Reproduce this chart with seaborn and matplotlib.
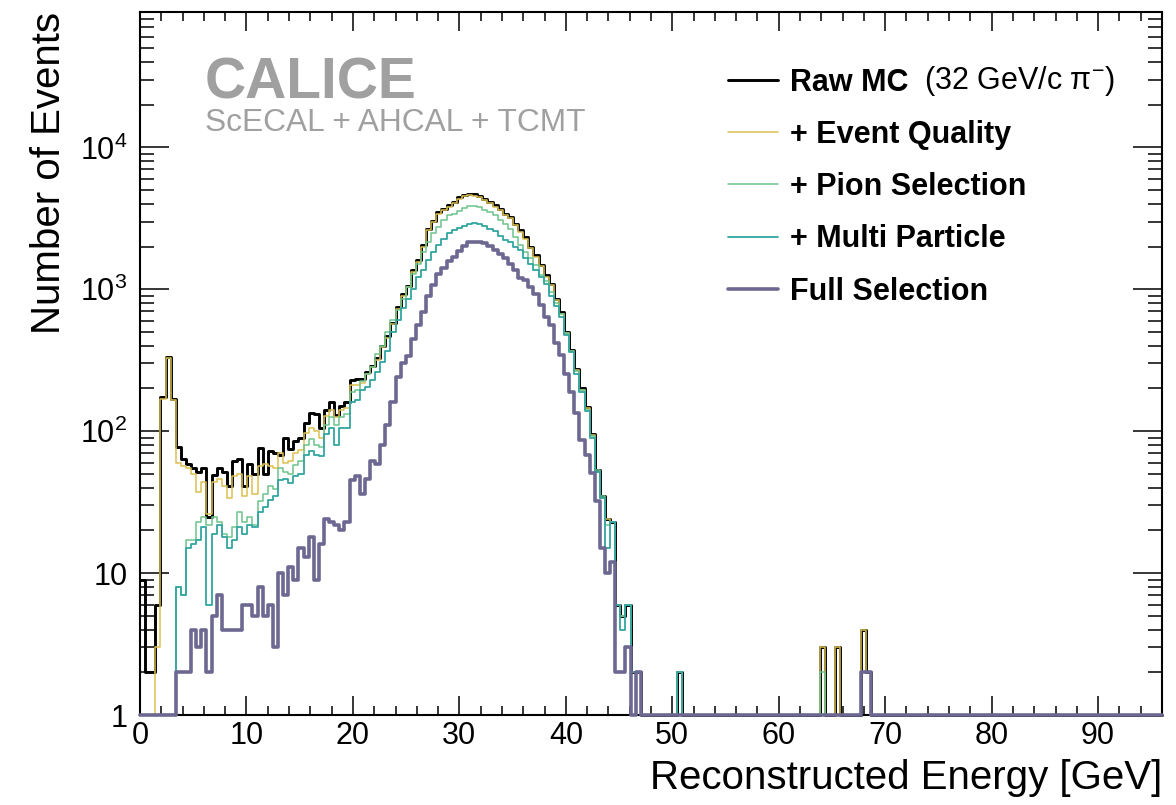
import numpy as np
import pandas as pd
import matplotlib
matplotlib.use("Agg")
import matplotlib.pyplot as plt
import seaborn as sns
from matplotlib.lines import Line2D
from matplotlib.ticker import FixedLocator, FixedFormatter, MultipleLocator, LogLocator, NullFormatter

# ---------------- data (0.48 GeV bins from 0 to 96 GeV) ----------------
n_bins = 200
e_min, e_max = 0.0, 96.0

# bins 0..97
raw_core = [9, 2, 2, 6, 175, 334, 170, 77, 64, 59, 55, 52, 55, 25, 49, 55, 52, 41, 62, 64,
            41, 59, 50, 76, 50, 73, 70, 68, 90, 75, 85, 90, 115, 135, 132, 105, 140, 160, 130, 150,
            160, 229, 232, 232, 260, 290, 330, 400, 470, 580, 750, 925, 1060, 1360, 1600, 2040, 2670, 3050, 3500, 3700,
            3900, 4150, 4450, 4650, 4700, 4680, 4550, 4350, 4120, 3900, 3700, 3410, 3230, 2900, 2600, 2330, 1990, 1740, 1480, 1260,
            1095, 860, 690, 500, 372, 276, 200, 148, 96, 53, 35, 24, 23, 6, 5, 6, 2, 2]
quality_core = [0, 0, 0, 3, 170, 330, 165, 60, 57, 55, 50, 37, 44, 26, 44, 46, 41, 34, 48, 50,
                35, 48, 36, 57, 59, 57, 55, 70, 60, 62, 70, 74, 97, 105, 100, 90, 127, 140, 125, 140,
                145, 210, 210, 220, 255, 285, 320, 390, 455, 565, 730, 900, 1030, 1320, 1560, 1990, 2600, 2980, 3420, 3620,
                3820, 4060, 4350, 4550, 4600, 4580, 4450, 4260, 4030, 3820, 3620, 3340, 3160, 2840, 2550, 2280, 1950, 1700, 1450, 1230,
                1070, 840, 675, 490, 365, 270, 196, 145, 94, 52, 34, 24, 23, 6, 5, 6, 2, 2]
pion_core = [0, 0, 0, 0, 0, 0, 0, 8, 7, 17, 17, 23, 25, 22, 25, 23, 19, 18, 21, 27,
             23, 25, 22, 32, 36, 41, 39, 55, 52, 50, 58, 62, 80, 88, 80, 78, 110, 125, 110, 125,
             133, 190, 195, 225, 255, 285, 350, 400, 500, 605, 720, 860, 1040, 1280, 1517, 1830, 2160, 2480, 2760, 3080,
             3330, 3410, 3550, 3760, 3845, 3845, 3800, 3640, 3500, 3330, 3100, 2880, 2660, 2330, 2040, 1830, 1660, 1480, 1260, 1140,
             960, 800, 665, 490, 370, 265, 195, 142, 92, 53, 35, 22, 23, 6, 5, 6, 2, 2]
multi_core = [0, 0, 0, 0, 0, 0, 0, 8, 7, 15, 16, 17, 21, 6, 19, 22, 18, 15, 17, 21,
              19, 22, 21, 27, 29, 33, 35, 45, 46, 43, 48, 50, 68, 73, 68, 67, 95, 105, 80, 105,
              105, 160, 165, 195, 205, 229, 260, 305, 370, 500, 605, 740, 860, 1010, 1220, 1370, 1600, 1830, 2040, 2270,
              2480, 2600, 2700, 2790, 2900, 2930, 2900, 2790, 2680, 2580, 2390, 2240, 2150, 1990, 1900, 1660, 1520, 1370, 1230, 1095,
              900, 760, 640, 475, 360, 255, 190, 138, 90, 52, 34, 15, 23, 6, 4, 6, 2, 2]
full_core = [0, 0, 0, 0, 0, 0, 0, 2, 2, 2, 4, 3, 4, 2, 5, 7, 4, 4, 4, 4,
             6, 6, 5, 8, 5, 6, 3, 10, 7, 11, 9, 15, 13, 18, 9, 16, 24, 23, 22, 20,
             23, 45, 48, 36, 46, 62, 59, 80, 110, 160, 240, 300, 340, 445, 560, 690, 900, 1080, 1280, 1410,
             1580, 1700, 1870, 2030, 2155, 2155, 2155, 2120, 2010, 1900, 1770, 1670, 1500, 1360, 1200, 1160, 1030, 920, 780, 640,
             560, 420, 345, 255, 190, 134, 87, 68, 51, 32, 15, 10, 12, 2, 2, 3, 0, 2]

# isolated high-energy entries: bin index -> counts
tail_bins = [105, 133, 136, 141, 142]
raw_tail = [2, 3, 3, 4, 2]
quality_tail = [2, 3, 3, 4, 2]
pion_tail = [2, 2, 0, 2, 2]
multi_tail = [2, 0, 0, 2, 2]
full_tail = [0, 0, 0, 2, 2]

labels = ["Raw MC", "+ Event Quality", "+ Pion Selection", "+ Multi Particle", "Full Selection"]
colors = ["#000000", "#dcc050", "#6cc48c", "#33a6a0", "#6c6891"]
widths = [2.1, 1.1, 1.1, 1.3, 2.6]

# ---------------- build full histograms ----------------
edges = np.linspace(e_min, e_max, n_bins + 1)
centers = 0.5 * (edges[:-1] + edges[1:])


def full_hist(core, tail):
    h = np.zeros(n_bins)
    h[:len(core)] = core
    for b, v in zip(tail_bins, tail):
        h[b] = v
    return h


series = [full_hist(raw_core, raw_tail), full_hist(quality_core, quality_tail),
          full_hist(pion_core, pion_tail), full_hist(multi_core, multi_tail),
          full_hist(full_core, full_tail)]

# ---------------- style ----------------
sns.set_style("white")
plt.rcParams["font.family"] = ["Liberation Sans", "DejaVu Sans"]
plt.rcParams["mathtext.fontset"] = "custom"
plt.rcParams["mathtext.rm"] = "Liberation Sans"
plt.rcParams["mathtext.it"] = "Liberation Sans:italic"
plt.rcParams["mathtext.bf"] = "Liberation Sans:bold"
plt.rcParams["text.color"] = "black"
plt.rcParams["axes.labelcolor"] = "black"
plt.rcParams["xtick.color"] = "black"
plt.rcParams["ytick.color"] = "black"

fig = plt.figure(figsize=(11.76, 8.05), dpi=100)
ax = fig.add_axes([140 / 1176, 1 - 715 / 805, 1022 / 1176, 703 / 805])

y_floor = 1.0  # ROOT draws empty bins at the axis minimum
for h, c, lw in zip(series, colors, widths):
    df = pd.DataFrame({"energy": centers, "count": np.clip(h, y_floor, None)})
    sns.histplot(data=df, x="energy", weights="count", bins=edges.tolist(), element="step",
                 fill=False, color=c, linewidth=lw, ax=ax, clip_on=False, zorder=3)

ax.set_yscale("log")
ax.set_xlim(e_min, e_max)
ax.set_ylim(1, 9e4)

for s in ax.spines.values():
    s.set_linewidth(1.5)
    s.set_color("black")

ax.xaxis.set_major_locator(MultipleLocator(10))
ax.xaxis.set_minor_locator(MultipleLocator(2))
ax.yaxis.set_major_locator(FixedLocator([1, 10, 100, 1000, 10000]))
ax.yaxis.set_major_formatter(FixedFormatter(["1", "10", "$10^{2}$", "$10^{3}$", "$10^{4}$"]))
ax.yaxis.set_minor_locator(LogLocator(base=10, subs=np.arange(2, 10)))
ax.yaxis.set_minor_formatter(NullFormatter())

ax.tick_params(which="both", direction="in", bottom=True, left=True, top=True, right=True,
               width=1.1, colors="black", labelcolor="black")
ax.tick_params(axis="x", which="major", length=14, labelsize=22, pad=4)
ax.tick_params(axis="x", which="minor", length=6.5)
ax.tick_params(axis="y", which="major", length=21, labelsize=22, pad=9)
ax.tick_params(axis="y", which="minor", length=10)

ax.set_xlabel("Reconstructed Energy [GeV]", fontsize=29, loc="right", color="black")
ax.xaxis.set_label_coords(1.0, -0.062)
ax.xaxis.label.set_verticalalignment("top")
ax.set_ylabel("Number of Events", fontsize=29, loc="top", color="black")
ax.yaxis.set_label_coords(-0.07, 1.0)

ax.text(0.0636, 0.877, "CALICE", transform=ax.transAxes, fontsize=41, fontweight="bold",
        color="#a0a0a0", va="baseline", ha="left")
ax.text(0.0636, 0.831, "ScECAL + AHCAL + TCMT", transform=ax.transAxes, fontsize=22.8,
        color="#a0a0a0", va="baseline", ha="left")

handles = [Line2D([], [], color=c, lw=lw) for c, lw in zip(colors, widths)]
leg = ax.legend(handles, labels, loc="upper left", bbox_to_anchor=(0.5753, 0.921),
                frameon=False, prop={"family": "Liberation Sans", "weight": "bold", "size": 22},
                handlelength=1.63, handletextpad=0.4, labelspacing=0.73, borderpad=0,
                borderaxespad=0, labelcolor="black")

fig.canvas.draw()
bb = leg.get_texts()[0].get_window_extent()
x_fig, y_fig = fig.transFigure.inverted().transform((bb.x1 + 16, bb.y0))
fig.text(x_fig, y_fig, "(32 GeV/c \u03c0$^{-}$)", fontsize=22, va="bottom", ha="left", color="black")

fig.savefig("out.png", dpi=100)
